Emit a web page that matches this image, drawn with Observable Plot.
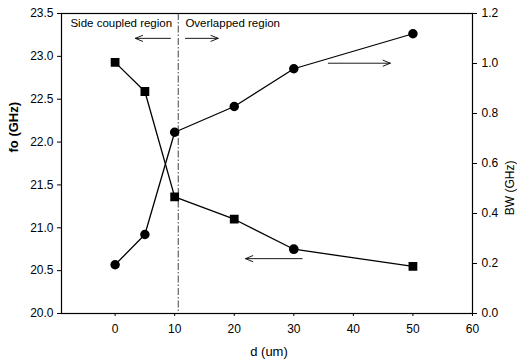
<!DOCTYPE html>
<html>
<head>
<meta charset="utf-8">
<script src="https://cdn.jsdelivr.net/npm/d3@7"></script>
<script src="https://cdn.jsdelivr.net/npm/@observablehq/plot@0.6"></script>
<style>
  html, body { margin: 0; padding: 0; background: #fff; }
  svg { font-family: "Liberation Sans", Arial, sans-serif; }
</style>
</head>
<body>
<div id="chart"></div>
<script>
// ---- data ----
const d = [0, 5, 10, 20, 30, 50];
const fo = [22.93, 22.59, 21.36, 21.10, 20.75, 20.55];        // left axis (GHz)
const foSymbols = ["square", "square", "square", "square", "circle", "square"];
const bw = [0.195, 0.316, 0.725, 0.828, 0.979, 1.119];         // right axis (GHz)
const xTicks = [0, 10, 20, 30, 40, 50, 60];
const foTicks = [20.0, 20.5, 21.0, 21.5, 22.0, 22.5, 23.0, 23.5];
const bwTicks = [0.0, 0.2, 0.4, 0.6, 0.8, 1.0, 1.2];
const boundary = [10.6];
const regionLabels = ["Side coupled region", "Overlapped region"];
const regionLabelX = [-7.5, 11.8];
const regionLabelY = [23.38, 23.38];
// arrows: [x1, x2, y] in (d, fo) space
const arrowX1 = [9.3, 11.8, 35.8, 31.4];
const arrowX2 = [3.4, 17.3, 46.2, 21.9];
const arrowY = [23.21, 23.21, 22.92, 20.64];

// ---- mapping BW onto fo scale ----
const foMin = 20, foMax = 23.5, bwMax = 1.2;
const k = (foMax - foMin) / bwMax;
const bwToFo = v => foMin + v * k;

const foData = d.map((x, i) => ({d: x, v: fo[i], s: foSymbols[i]}));
const bwData = d.map((x, i) => ({d: x, v: bwToFo(bw[i])}));
const labels = regionLabels.map((t, i) => ({t, x: regionLabelX[i], y: regionLabelY[i]}));
const arrows = arrowX1.map((x1, i) => ({x1, x2: arrowX2[i], y: arrowY[i]}));

const chart = Plot.plot({
  width: 517,
  height: 363,
  marginLeft: 61,
  marginRight: 45,
  marginTop: 13,
  marginBottom: 50,
  style: {fontFamily: '"Liberation Sans", Arial, sans-serif', fontSize: "12px", color: "#000", background: "#fff"},
  x: {domain: [-9, 60]},
  y: {domain: [foMin, foMax]},
  symbol: {type: "identity"},
  marks: [
    Plot.ruleX(boundary, {stroke: "#444", strokeWidth: 1, strokeDasharray: "7,2,1.5,2"}),
    Plot.frame({stroke: "#000", strokeWidth: 1.2}),
    Plot.axisX({ticks: xTicks, tickSize: 3, tickPadding: 8, tickFormat: "d", label: null, fontSize: 12}),
    Plot.axisY({ticks: foTicks, tickSize: 4, tickPadding: 4, tickFormat: ".1f", label: null, fontSize: 12}),
    Plot.axisY({anchor: "right", ticks: bwTicks.map(bwToFo), tickSize: 4, tickPadding: 5,
                tickFormat: v => ((v - foMin) / k).toFixed(1), label: null, fontSize: 12}),
    Plot.line(foData, {x: "d", y: "v", stroke: "#000", strokeWidth: 1.3}),
    Plot.line(bwData, {x: "d", y: "v", stroke: "#000", strokeWidth: 1.3}),
    Plot.dot(foData, {x: "d", y: "v", symbol: "s", r: 4.1, fill: "#000", stroke: "#000"}),
    Plot.dot(bwData, {x: "d", y: "v", symbol: "circle", r: 4, fill: "#000", stroke: "#000"}),
    Plot.text(labels, {x: "x", y: "y", text: "t", textAnchor: "start", fontSize: 11.5, fill: "#000"}),
    Plot.arrow(arrows, {x1: "x1", x2: "x2", y1: "y", y2: "y", stroke: "#000", strokeWidth: 0.9,
                        headAngle: 45, headLength: 13, bend: 0}),
    Plot.text(["fo (GHz)"], {frameAnchor: "left", dx: -48, dy: -11, rotate: -90, fontSize: 13, fontWeight: "bold", fill: "#000"}),
    Plot.text(["BW (GHz)"], {frameAnchor: "right", dx: 37.5, dy: -3, rotate: -90, fontSize: 12, fill: "#000"}),
    Plot.text(["d (um)"], {frameAnchor: "bottom", dx: 2, dy: 42, fontSize: 13, fill: "#000"})
  ]
});
document.getElementById("chart").appendChild(chart);
</script>
</body>
</html>
